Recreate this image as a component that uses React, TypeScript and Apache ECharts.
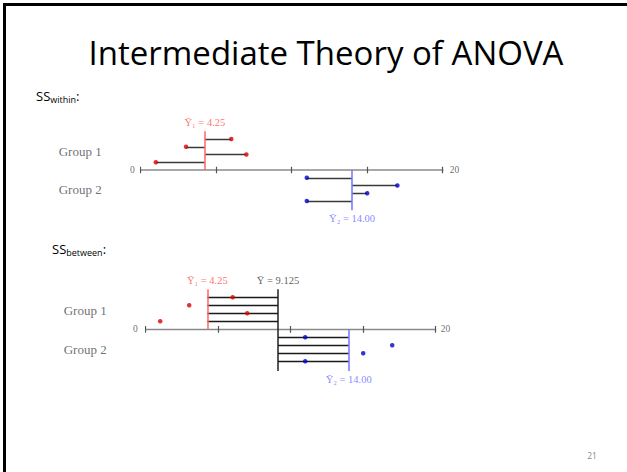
import React, { useEffect, useRef } from 'react';
import * as echarts from 'echarts';

// ---- data ----
const groupNames = ['Group 1', 'Group 2'];
const group1Values = [6, 3, 7, 1];
const group2Values = [11, 17, 15, 11];
const groupMeans = [4.25, 14.0];
const grandMean = 9.125;
const axisMin = 0;
const axisMax = 20;
const axisInterval = 5;
const endLabels = ['0', '20'];
const group1Rows = [4, 3, 2, 1];
const group2Rows = [-1, -2, -3, -4];
const titleText = 'Intermediate Theory of ANOVA';
const pageNumber = '21';

const SERIF = "'Liberation Serif', 'DejaVu Serif', serif";
const SANS = "'Open Sans', 'Noto Sans', sans-serif";

const RED_PT = '#dd0000';
const BLUE_PT = '#0000cc';
const RED_LINE = '#ff6464';
const BLUE_LINE = '#7272ff';
const RED_TXT = '#ff4c4c';
const BLUE_TXT = '#6a6aff';

const meanLabel = (i: number) =>
  `Ȳ${i === 0 ? '₁' : '₂'} = ${groupMeans[i].toFixed(2)}`;
const grandLabel = `Ȳ = ${grandMean}`;

const tickValues: number[] = [];
for (let v = axisMin; v <= axisMax; v += axisInterval) tickValues.push(v);

function panelSeries(g: number, between: boolean): any[] {
  const ax = { xAxisIndex: g, yAxisIndex: g };
  const series: any[] = [];
  const tickHalf = 0.42;
  // tick marks (both sides of the axis)
  series.push({
    type: 'lines', coordinateSystem: 'cartesian2d', ...ax, silent: true, z: 1,
    lineStyle: { color: '#555', width: 1.2, opacity: 1 },
    data: tickValues.map((v) => ({ coords: [[v, -tickHalf], [v, tickHalf]] })),
  });
  // connectors
  const conn: any[] = [];
  if (!between) {
    group1Values.forEach((v, i) => conn.push({ coords: [[groupMeans[0], group1Rows[i]], [v, group1Rows[i]]] }));
    group2Values.forEach((v, i) => conn.push({ coords: [[groupMeans[1], group2Rows[i]], [v, group2Rows[i]]] }));
  } else {
    group1Rows.forEach((r) => conn.push({ coords: [[groupMeans[0], r], [grandMean, r]] }));
    group2Rows.forEach((r) => conn.push({ coords: [[grandMean, r], [groupMeans[1], r]] }));
  }
  series.push({
    type: 'lines', coordinateSystem: 'cartesian2d', ...ax, silent: true, z: 2,
    lineStyle: { color: between ? '#1a1a1a' : '#3a3a3a', width: 1.4, opacity: 1 },
    data: conn,
  });
  // mean lines
  const meanTop = 5;
  const meanBottom = -5.2;
  series.push({
    type: 'lines', coordinateSystem: 'cartesian2d', ...ax, silent: true, z: 3,
    lineStyle: { width: 1.5, opacity: 1 },
    data: [
      { coords: [[groupMeans[0], 0], [groupMeans[0], meanTop]], lineStyle: { color: RED_LINE } },
      { coords: [[groupMeans[1], 0], [groupMeans[1], meanBottom]], lineStyle: { color: BLUE_LINE } },
      ...(between
        ? [{ coords: [[grandMean, meanTop], [grandMean, meanBottom]], lineStyle: { color: '#222' } }]
        : []),
    ],
  });
  // points
  series.push({
    type: 'scatter', ...ax, z: 4, symbolSize: 4.5, silent: true,
    itemStyle: { color: RED_PT },
    data: group1Values.map((v, i) => [v, group1Rows[i]]),
  });
  series.push({
    type: 'scatter', ...ax, z: 4, symbolSize: 4.5, silent: true,
    itemStyle: { color: BLUE_PT },
    data: group2Values.map((v, i) => [v, group2Rows[i]]),
  });
  // text labels anchored to data coordinates
  const lbl = (extra: any) => ({
    show: true, fontFamily: SERIF, fontSize: 10.5, color: '#444', ...extra,
  });
  const labelData: any[] = [
    { value: [groupMeans[0], meanTop], label: lbl({ position: 'top', distance: 3, color: RED_TXT, formatter: meanLabel(0) }) },
    { value: [groupMeans[1], meanBottom], label: lbl({ position: 'bottom', distance: 3, color: BLUE_TXT, formatter: meanLabel(1) }) },
    { value: [axisMin, 0], label: lbl({ position: 'left', distance: between ? 8 : 6, fontSize: 9.5, formatter: endLabels[0] }) },
    { value: [axisMax, 0], label: lbl({ position: 'right', distance: between ? 5 : 7, fontSize: 9.5, formatter: endLabels[1] }) },
    { value: [axisMin, 2.4], label: lbl({ position: 'left', distance: 39, fontSize: 13, color: '#4a4a4a', formatter: groupNames[0] }) },
    { value: [axisMin, -2.5], label: lbl({ position: 'left', distance: 39, fontSize: 13, color: '#4a4a4a', formatter: groupNames[1] }) },
  ];
  if (between) {
    labelData.push({ value: [grandMean, meanTop], label: lbl({ position: 'top', distance: 3, color: '#333', formatter: grandLabel }) });
  }
  series.push({
    type: 'scatter', ...ax, z: 5, symbolSize: 0, silent: true,
    itemStyle: { color: 'transparent' },
    data: labelData,
  });
  return series;
}

const xAxisBase = (g: number, color: string, width: number) => ({
  gridIndex: g, type: 'value', min: axisMin, max: axisMax, interval: axisInterval,
  axisLine: { show: true, onZero: true, lineStyle: { color, width } },
  axisTick: { show: false }, axisLabel: { show: false }, splitLine: { show: false },
});
const yAxisBase = (g: number) => ({
  gridIndex: g, type: 'value', min: -6, max: 6, show: false, splitLine: { show: false },
});

const ssRich = {
  a: { fontFamily: SANS, fontSize: 13, lineHeight: 15, verticalAlign: 'top', fill: '#000' },
  b: { fontFamily: SANS, fontSize: 9, lineHeight: 10, padding: [8, 0, 0, 0], verticalAlign: 'bottom', fill: '#000' },
};

export default function App() {
  const ref = useRef<HTMLDivElement>(null);
  useEffect(() => {
    if (!ref.current) return;
    const chart = echarts.init(ref.current, undefined, { renderer: 'svg' });
    chart.setOption({
      animation: false,
      backgroundColor: '#ffffff',
      grid: [
        { left: 140.7, top: 123.5, width: 302, height: 93 },
        { left: 145.7, top: 281.3, width: 290, height: 96 },
      ],
      xAxis: [xAxisBase(0, '#a8a8a8', 1.8), xAxisBase(1, '#8a8a8a', 1.4)],
      yAxis: [yAxisBase(0), yAxisBase(1)],
      series: [...panelSeries(0, false), ...panelSeries(1, true)],
      graphic: [
        { type: 'line', shape: { x1: 3, y1: 4.5, x2: 627, y2: 4.5 }, style: { stroke: '#000', lineWidth: 3 } },
        { type: 'line', shape: { x1: 4.5, y1: 3, x2: 4.5, y2: 472 }, style: { stroke: '#000', lineWidth: 3 } },
        {
          type: 'text', x: 326, y: 52,
          style: { text: titleText, fontFamily: SANS, fontSize: 33, fill: '#000', align: 'center', verticalAlign: 'middle' },
        },
        {
          type: 'text', x: 36, y: 89,
          style: { text: '{a|SS}{b|within}{a|:}', fontFamily: SANS, fill: '#000', rich: ssRich },
        },
        {
          type: 'text', x: 52, y: 242,
          style: { text: '{a|SS}{b|between}{a|:}', fontFamily: SANS, fill: '#000', rich: ssRich },
        },
        {
          type: 'text', x: 592, y: 455,
          style: { text: pageNumber, fontFamily: SANS, fontSize: 8.5, fill: '#8a8a8a', align: 'center', verticalAlign: 'middle' },
        },
      ],
    });
    return () => chart.dispose();
  }, []);
  return (
    <div
      ref={ref}
      style={{ position: 'absolute', left: 0, top: 0, width: 627, height: 472, background: '#fff' }}
    />
  );
}
